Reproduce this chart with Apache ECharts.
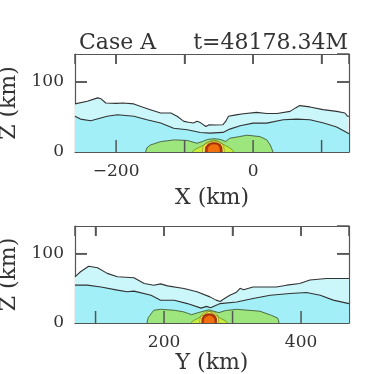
<!DOCTYPE html>
<html>
<head>
<meta charset="utf-8">
<script src="https://cdn.jsdelivr.net/npm/echarts@6/dist/echarts.min.js"></script>
<style>
  html, body { margin: 0; padding: 0; background: #fff; }
  #chart { width: 374px; height: 374px; }
</style>
</head>
<body>
<div id="chart"></div>
<script>
// ---- X cut (top panel) ----
const xUpperX = [-260, -242, -227, -222, -215, -200, -190, -174, -164, -150, -135, -120, -111, -101, -94, -87, -82, -77, -69, -64, -55, -44, -40, -36, -25, -14, 5, 20, 35, 54, 62, 68, 83, 102, 122, 134, 138, 140];
const xUpperZ = [68.7, 72.5, 77.3, 76, 70, 69.5, 70, 68.7, 65, 60.5, 55.7, 55.7, 51, 43.7, 42.5, 41.5, 44, 42, 36.5, 39, 38.5, 39, 43.7, 51, 53, 54.7, 56.6, 55, 55, 58, 63, 66.3, 64.4, 60.5, 58, 55.7, 51, 51];
const xLowerX = [-260, -252, -237, -213, -198, -174, -155, -135, -116, -96, -77, -63, -44, -34, -19, 0, 20, 44, 64, 83, 103, 122, 140];
const xLowerZ = [51, 47, 44.7, 51, 53.3, 51, 46, 41.3, 34, 31.7, 27.8, 27, 28, 32.7, 37.5, 41.3, 41.3, 46, 47, 46, 41.3, 35.6, 26];
const xGreenX = [-157, -155, -150, -135, -115, -96, -82, -74, -66, -57, -48, -40, -34, -20, -9, 10, 20, 25, 28, 29];
const xGreenZ = [0, 6, 10, 14.8, 17.3, 16.5, 12.5, 15, 18, 19, 18, 15, 19.7, 22, 24, 22, 17.3, 10, 3, 0];
const xLimeX = [-89, -85, -78, -70, -62, -57, -52, -44, -36, -31, -28];
const xLimeZ = [0, 3.5, 7, 11, 15.5, 17, 15.5, 11, 7, 3.5, 0];
const xYellowX = [-74, -73, -69, -63, -57, -51, -46, -43, -42];
const xYellowZ = [0, 8, 13, 15, 15.5, 15, 13, 8, 0];
const xRedX = [-70, -69.5, -66, -62, -57, -52, -48, -45.5, -45];
const xRedZ = [0, 7, 11, 13, 13.5, 13, 11, 7, 0];
const xOrangeX = [-67, -66.5, -64, -61, -57, -53, -50, -48.5, -48];
const xOrangeZ = [0, 6, 9, 11, 11.5, 11, 9, 6, 0];

// ---- Y cut (bottom panel) ----
const yUpperY = [70, 78, 90, 103, 117, 132, 156, 171, 185, 195, 205, 229, 248, 267, 276, 282, 286, 296, 305, 311, 316, 330, 364, 379, 398, 413, 437, 470];
const yUpperZ = [66.7, 74, 82, 79.7, 71.6, 66.7, 65.2, 57, 54.6, 56.5, 53.6, 49.8, 45, 37.7, 33, 31, 34, 40, 44, 50, 48, 52, 52, 54.6, 57, 62, 64.3, 64.3];
const yLowerY = [70, 88, 108, 132, 146, 156, 181, 195, 215, 234, 254, 262, 268, 282, 306, 330, 355, 384, 408, 428, 447, 470];
const yLowerZ = [54.6, 54.6, 52, 47.4, 45, 46, 40, 32.9, 32.9, 28, 21.5, 24, 22, 28, 30.4, 35.4, 40, 42.6, 44, 40, 33, 28];
const yGreenY = [175, 177, 185, 195, 215, 229, 240, 250, 265, 280, 290, 306, 340, 357, 366, 368];
const yGreenZ = [0, 8, 18.4, 19.8, 18.4, 16, 12, 15, 19, 15, 18, 19.8, 17, 11, 7, 0];
const yLimeY = [239, 243, 250, 258, 266, 274, 282, 289, 293];
const yLimeZ = [0, 3.5, 7, 12, 17.5, 12, 7, 3.5, 0];
const yYellowY = [252, 253, 256, 260, 266, 272, 276, 279, 280];
const yYellowZ = [0, 9, 13.5, 16, 16.5, 16, 13.5, 9, 0];
const yRedY = [255, 255.5, 258, 262, 266, 270, 274, 276.5, 277];
const yRedZ = [0, 7, 11, 13, 13.5, 13, 11, 7, 0];
const yOrangeY = [257.5, 258, 260.5, 263, 266, 269, 271.5, 274, 274.5];
const yOrangeZ = [0, 6, 9, 11, 11.5, 11, 9, 6, 0];

// ticks and which of them carry a label
const xTicks = [-200, -100, 0, 100];
const xLabels = [-200, 0];
const yTicks = [100, 200, 300, 400];
const yLabels = [200, 400];
const zTicks = [100];
const zLabels = [0, 100];

const FONT = 'DejaVu Serif';
const INK = '#333';
const FRAME = '#555';

function zip(a, b) {
  return a.map((v, i) => [v, b[i]]);
}

// one filled contour layer (fills down to z=0)
function layer(gi, xs, zs, fill, line, lw) {
  return {
    type: 'line',
    xAxisIndex: gi * 2,
    yAxisIndex: gi * 2,
    data: zip(xs, zs),
    symbol: 'none',
    silent: true,
    clip: true,
    z: 2,
    lineStyle: { color: line, width: lw },
    areaStyle: { color: fill, opacity: 1, origin: 'start' }
  };
}

function panelLayers(gi, d) {
  return [
    layer(gi, d[0][0], d[0][1], '#cbf7fb', '#333', 1.1),
    layer(gi, d[1][0], d[1][1], '#a2eff7', '#333', 1.1),
    layer(gi, d[2][0], d[2][1], '#9ce67d', '#3a4a2a', 0.8),
    layer(gi, d[3][0], d[3][1], '#c6ec3e', '#556b10', 0.6),
    layer(gi, d[4][0], d[4][1], '#f5f05c', '#8a7a10', 0.6),
    layer(gi, d[5][0], d[5][1], '#b8300e', '#7a2008', 0.6),
    layer(gi, d[6][0], d[6][1], '#f0700e', '#a03008', 0.6)
  ];
}

function labelFmt(list) {
  return function (v) {
    if (list.indexOf(v) < 0) return '';
    return v < 0 ? '\u2212' + (-v) : String(v);
  };
}

const frameLine = { show: true, onZero: false, lineStyle: { color: FRAME, width: 1.2 } };

function xAxes(gi, min, max, labels, name, gap) {
  return [
    {
      type: 'value', gridIndex: gi, min: min, max: max, splitNumber: 4, position: 'bottom',
      axisLine: frameLine,
      splitLine: { show: false },
      axisTick: { show: true, inside: true, length: 12, lineStyle: { color: FRAME, width: 1.5 } },
      axisLabel: { formatter: labelFmt(labels), showMinLabel: false, showMaxLabel: false, fontFamily: FONT, fontSize: 17, color: INK, margin: 11 },
      name: name, nameLocation: 'middle', nameGap: gap,
      nameTextStyle: { fontFamily: FONT, fontSize: 22, color: INK }
    },
    {
      type: 'value', gridIndex: gi, min: min, max: max, splitNumber: 4, position: 'top',
      axisLine: frameLine,
      splitLine: { show: false },
      axisTick: { show: true, inside: true, length: 10, lineStyle: { color: FRAME, width: 1.5 } },
      axisLabel: { show: false }
    }
  ];
}

function zAxes(gi) {
  return [
    {
      type: 'value', gridIndex: gi, min: 0, max: 140, interval: 100, position: 'left',
      axisLine: frameLine,
      splitLine: { show: false },
      axisTick: { show: true, inside: true, length: 12, lineStyle: { color: FRAME, width: 1.5 } },
      axisLabel: { formatter: labelFmt(zLabels), showMaxLabel: false, fontFamily: FONT, fontSize: 17, color: INK, margin: 11 },
      name: 'Z (km)', nameLocation: 'middle', nameGap: 44,
      nameTextStyle: { fontFamily: FONT, fontSize: 22, color: INK }
    },
    {
      type: 'value', gridIndex: gi, min: 0, max: 140, interval: 100, position: 'right',
      axisLine: frameLine,
      splitLine: { show: false },
      axisTick: { show: true, inside: true, length: 12, lineStyle: { color: FRAME, width: 1.5 } },
      axisLabel: { show: false }
    }
  ];
}

const titles = [
  { type: 'text', id: 'case', z: 100, style: { x: 79, y: 43, text: 'Case A', font: '22px "DejaVu Serif"', fill: INK, textAlign: 'left', textVerticalAlign: 'middle' } },
  { type: 'text', id: 'time', z: 100, style: { x: 348, y: 43, text: 't=48178.34M', font: '22px "DejaVu Serif"', fill: INK, textAlign: 'right', textVerticalAlign: 'middle' } }
];

const chart = echarts.init(document.getElementById('chart'));

chart.setOption({
  animation: false,
  backgroundColor: '#fff',
  grid: [
    { left: 75, top: 54, width: 274, height: 98, outerBoundsMode: 'none', containLabel: false },
    { left: 75, top: 226, width: 274, height: 97, outerBoundsMode: 'none', containLabel: false }
  ],
  xAxis: [].concat(
    xAxes(0, -260, 140, xLabels, 'X (km)', 35),
    xAxes(1, 70, 470, yLabels, 'Y (km)', 28)
  ),
  yAxis: [].concat(zAxes(0), zAxes(1)),
  graphic: titles,
  series: [].concat(
    panelLayers(0, [
      [xUpperX, xUpperZ], [xLowerX, xLowerZ], [xGreenX, xGreenZ], [xLimeX, xLimeZ],
      [xYellowX, xYellowZ], [xRedX, xRedZ], [xOrangeX, xOrangeZ]
    ]),
    panelLayers(1, [
      [yUpperY, yUpperZ], [yLowerY, yLowerZ], [yGreenY, yGreenZ], [yLimeY, yLimeZ],
      [yYellowY, yYellowZ], [yRedY, yRedZ], [yOrangeY, yOrangeZ]
    ])
  )
});

// inward ticks on all four sides as thin rects, placed through the axes' own scales
function tickRect(id, x, y, w, h) {
  return {
    type: 'rect', id: id, z: 100, silent: true,
    shape: { x: x, y: y, width: w, height: h },
    style: { fill: FRAME }
  };
}

const ticks = [];
try {
  [[0, xTicks, -260, 140], [1, yTicks, 70, 470]].forEach(function (p) {
    const gi = p[0];
    const xi = { xAxisIndex: gi * 2 };
    const yi = { yAxisIndex: gi * 2 };
    const yBot = chart.convertToPixel(yi, 0);
    const yTop = chart.convertToPixel(yi, 140);
    const xLeft = chart.convertToPixel(xi, p[2]);
    const xRight = chart.convertToPixel(xi, p[3]);
    p[1].forEach(function (t, k) {
      const px = chart.convertToPixel(xi, t);
      ticks.push(tickRect('b' + gi + k, px - 0.75, yBot - 12, 1.5, 12));
      ticks.push(tickRect('t' + gi + k, px - 0.75, yTop, 1.5, 10));
    });
    zTicks.forEach(function (t, k) {
      const py = chart.convertToPixel(yi, t);
      ticks.push(tickRect('l' + gi + k, xLeft, py - 0.75, 12, 1.5));
      ticks.push(tickRect('r' + gi + k, xRight - 12, py - 0.75, 12, 1.5));
    });
  });
} catch (e) {
  // ticks are decoration only; the axes already carry the frame
}

chart.setOption({ graphic: { elements: titles.concat(ticks) } });
</script>
</body>
</html>
